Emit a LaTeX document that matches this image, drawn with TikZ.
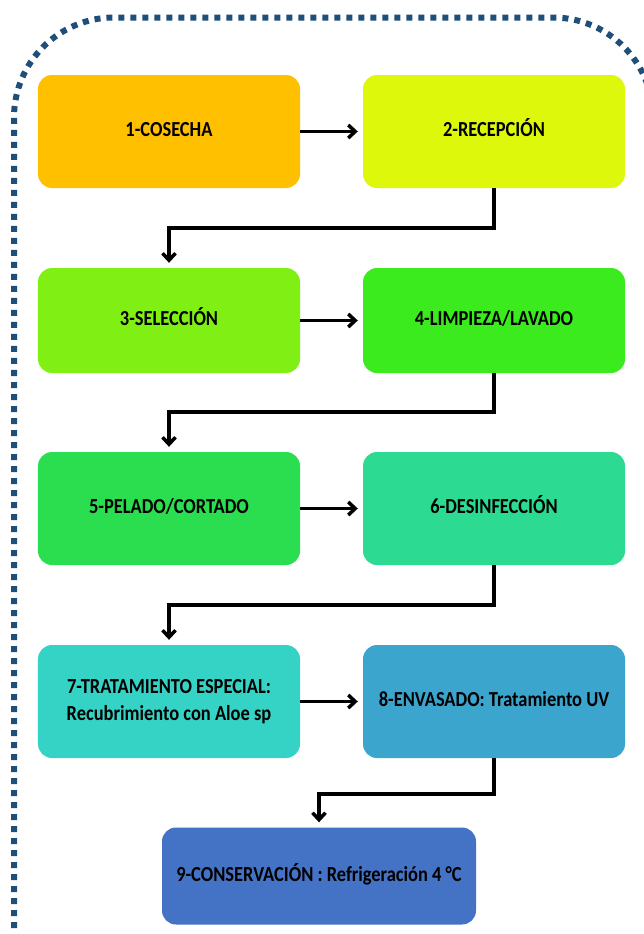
\documentclass[tikz,border=0pt]{standalone}
\usepackage{fontspec}
\setmainfont{Carlito}
\usetikzlibrary{arrows.meta}

\definecolor{framecol}{HTML}{1F4E79}
\definecolor{cosechacol}{HTML}{FFC000}
\definecolor{recepcol}{HTML}{DDF80A}
\definecolor{seleccol}{HTML}{80F014}
\definecolor{limpcol}{HTML}{3CEB1E}
\definecolor{peladocol}{HTML}{2ADE50}
\definecolor{desinfcol}{HTML}{2DDA91}
\definecolor{tratcol}{HTML}{34D3C5}
\definecolor{envascol}{HTML}{3CA5CD}
\definecolor{conscol}{HTML}{4472C4}

\newcommand{\steplabel}[1]{\scalebox{0.86}[1]{\begin{tabular}{@{}c@{}}#1\end{tabular}}}

\begin{document}
\begin{tikzpicture}[
  x=1bp, y=-1bp,
  stepbox/.style={rectangle, rounded corners=14bp, minimum width=262bp, minimum height=113bp,
    inner sep=0pt, font=\fontsize{21.5}{27}\selectfont\bfseries, text=black},
  flow/.style={line width=3.5bp, black, -{Straight Barb[length=7bp,width=13bp]}, shorten >=5bp},
  frame/.style={line width=6bp, framecol, dash pattern=on 6bp off 6bp, rounded corners=100bp}
]
\useasboundingbox (0,0) rectangle (644,934);
\clip (0,0) rectangle (644,934);

% === Dotted frame (runs past the page edges) ===
\draw[frame] (14,1000) |- (653,17.5) -- (653,1000);

% === Row 1 ===
\node[stepbox, fill=cosechacol] (cosecha) at (169,131.5) {\steplabel{1-COSECHA}};
\node[stepbox, fill=recepcol] (recepcion) at (494,131.5) {\steplabel{2-RECEPCIÓN}};

% === Row 2 ===
\node[stepbox, fill=seleccol, minimum height=105bp] (seleccion) at (169,320.5) {\steplabel{3-SELECCIÓN}};
\node[stepbox, fill=limpcol, minimum height=105bp] (limpieza) at (494,320.5) {\steplabel{4-LIMPIEZA/LAVADO}};

% === Row 3 ===
\node[stepbox, fill=peladocol] (pelado) at (169,508.5) {\steplabel{5-PELADO/CORTADO}};
\node[stepbox, fill=desinfcol] (desinfeccion) at (494,508.5) {\steplabel{6-DESINFECCIÓN}};

% === Row 4 ===
\node[stepbox, fill=tratcol] (tratamiento) at (169,701.5) {\steplabel{7-TRATAMIENTO ESPECIAL:\\Recubrimiento con Aloe sp}};
\node[stepbox, fill=envascol] (envasado) at (494,701.5) {\steplabel{8-ENVASADO: Tratamiento UV}};

% === Row 5 ===
\node[stepbox, fill=conscol, minimum width=314bp, minimum height=97bp] (conservacion) at (319,876) {\steplabel{9-CONSERVACIÓN : Refrigeración 4 °C}};

% Horizontal steps
\draw[flow] (cosecha.east) -- (recepcion.west);
\draw[flow] (seleccion.east) -- (limpieza.west);
\draw[flow] (pelado.east) -- (desinfeccion.west);
\draw[flow] (tratamiento.east) -- (envasado.west);

% Row changes
\draw[flow] (recepcion.south) -- ++(0,40) -| (seleccion.north);
\draw[flow] (limpieza.south) -- ++(0,39) -| (pelado.north);
\draw[flow] (desinfeccion.south) -- ++(0,40) -| (tratamiento.north);
\draw[flow] (envasado.south) -- ++(0,36) -| (conservacion.north);

\end{tikzpicture}
\end{document}
